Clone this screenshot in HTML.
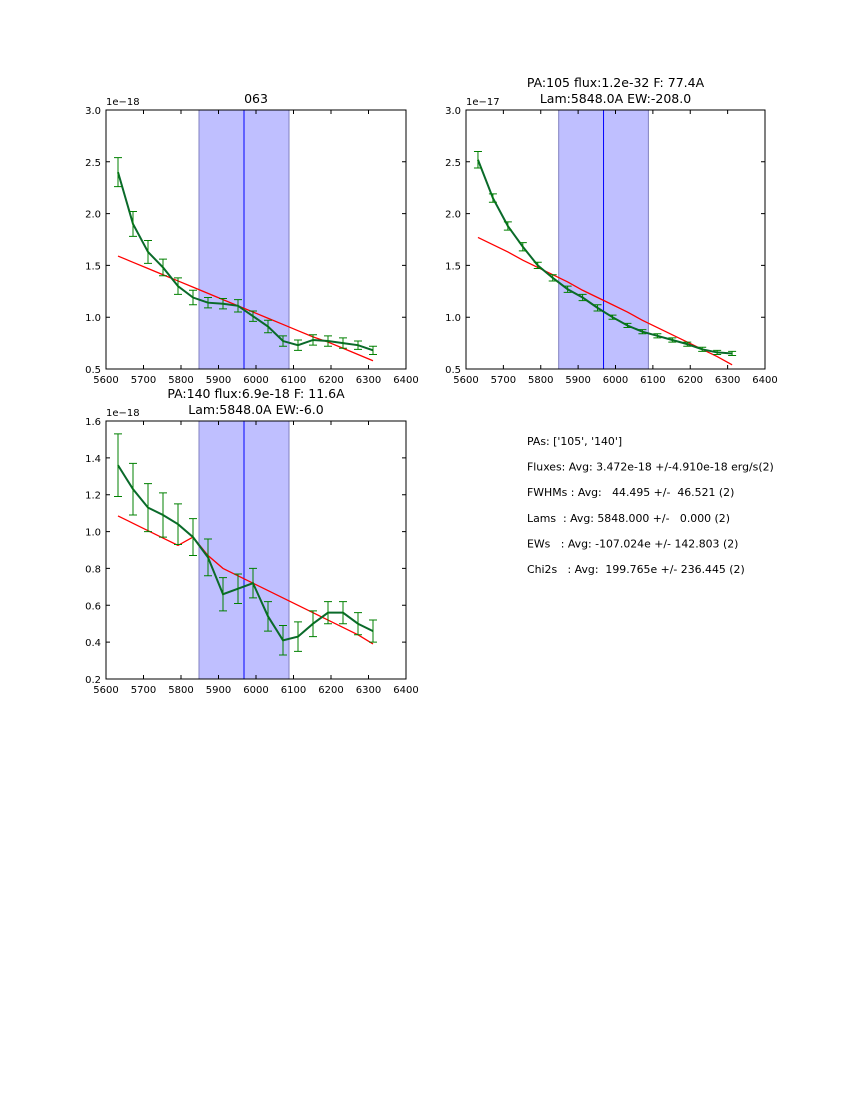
<!DOCTYPE html>
<html><head><meta charset="utf-8"><style>
body{margin:0;background:#fff;}
svg text{font-family:"DejaVu Sans","Liberation Sans",sans-serif;}
</style></head><body>
<svg id="fig" width="850" height="1100" xmlns="http://www.w3.org/2000/svg"></svg>
<script>
const wavelengths=[5632,5672,5712,5752,5792,5832,5872,5912,5952,5992,6032,6072,6112,6152,6192,6232,6272,6312];
const flux063=[2.40,1.90,1.63,1.48,1.30,1.19,1.14,1.13,1.11,1.01,0.91,0.77,0.73,0.78,0.77,0.75,0.73,0.68];
const err063=[0.14,0.12,0.11,0.08,0.08,0.07,0.05,0.05,0.06,0.05,0.06,0.05,0.05,0.05,0.05,0.05,0.04,0.04];
const fit063=[1.59,1.53,1.47,1.41,1.35,1.29,1.23,1.17,1.11,1.05,0.99,0.93,0.87,0.81,0.76,0.70,0.64,0.58];
const flux105=[2.52,2.15,1.88,1.68,1.50,1.38,1.27,1.19,1.09,1.00,0.92,0.86,0.82,0.78,0.74,0.69,0.66,0.65];
const err105=[0.08,0.04,0.04,0.04,0.03,0.03,0.03,0.03,0.03,0.02,0.02,0.02,0.02,0.02,0.02,0.02,0.02,0.02];
const fit105=[1.77,1.70,1.63,1.55,1.48,1.41,1.34,1.26,1.19,1.12,1.05,0.97,0.90,0.83,0.76,0.69,0.62,0.54];
const flux140=[1.36,1.23,1.13,1.09,1.04,0.97,0.86,0.66,0.69,0.72,0.54,0.41,0.43,0.50,0.56,0.56,0.50,0.46];
const err140=[0.17,0.14,0.13,0.12,0.11,0.10,0.10,0.09,0.08,0.08,0.08,0.08,0.08,0.07,0.06,0.06,0.06,0.06];
const fit140=[1.085,1.045,1.005,0.965,0.925,0.97,0.87,0.80,0.76,0.72,0.68,0.64,0.60,0.56,0.52,0.48,0.44,0.39];
const xTicks=[5600,5700,5800,5900,6000,6100,6200,6300,6400];
const yTicksA=[0.5,1.0,1.5,2.0,2.5,3.0];
const yTicksB=[0.2,0.4,0.6,0.8,1.0,1.2,1.4,1.6];
const bandRange=[5848,6088];
const lineCenter=5968;

const NS="http://www.w3.org/2000/svg";
const fig=document.getElementById('fig');
function el(tag,attrs,parent){const e=document.createElementNS(NS,tag);for(const k in attrs)e.setAttribute(k,attrs[k]);(parent||fig).appendChild(e);return e;}
function panel(name,L,T,W,H,ymin,ymax,yTicks,ydec,flux,err,fit,titles,expo){
  const g=el('g',{});
  
  
  const sx=v=>L+(v-5600)/800*W, sy=v=>T+H-(v-ymin)/(ymax-ymin)*H;
  const band=el('rect',{x:sx(bandRange[0]),y:T,width:sx(bandRange[1])-sx(bandRange[0]),height:H,fill:'#bfbfff',stroke:'#8080c0','stroke-width':1},g);
  
  
  const vl=el('line',{x1:sx(lineCenter),x2:sx(lineCenter),y1:T,y2:T+H,stroke:'#0000ff','stroke-width':1},g);
  
  
  const fl=el('polyline',{points:wavelengths.map((w,i)=>sx(w)+','+sy(fit[i])).join(' '),fill:'none',stroke:'#ff0000','stroke-width':1.3},g);
  
  
  const dl=el('polyline',{points:wavelengths.map((w,i)=>sx(w)+','+sy(flux[i])).join(' '),fill:'none',stroke:'#0a6a2a','stroke-width':2},g);
  
  
  wavelengths.forEach((w,i)=>{
    const x=sx(w),y1=sy(flux[i]-err[i]),y2=sy(flux[i]+err[i]);
    const p=el('path',{d:`M${x},${y1}V${y2}M${x-4},${y1}H${x+4}M${x-4},${y2}H${x+4}`,stroke:'#008000','stroke-width':1,fill:'none'},g);
    
    
  });
  el('rect',{x:L,y:T,width:W,height:H,fill:'none',stroke:'#000','stroke-width':1},g);
  xTicks.forEach(t=>{const x=sx(t);
    el('path',{d:`M${x},${T+H}v-4M${x},${T}v4`,stroke:'#000'},g);
    const tx=el('text',{x:x,y:T+H+14,'font-size':10,'text-anchor':'middle'},g);tx.textContent=t;
    
    });
  yTicks.forEach(t=>{const y=sy(t);
    el('path',{d:`M${L},${y}h4M${L+W},${y}h-4`,stroke:'#000'},g);
    const tx=el('text',{x:L-5,y:y+4,'font-size':10,'text-anchor':'end'},g);tx.textContent=t.toFixed(1);
    
    });
  const ex=el('text',{x:L,y:T-5,'font-size':10},g);ex.textContent='1e\u221218'.replace('18',expo);
  
  
  titles.forEach((s,k)=>{const t=el('text',{x:L+W/2,y:T-7-(titles.length-1-k)*16,'font-size':12.5,'text-anchor':'middle'},g);t.textContent=s;
    
    });
}
panel('panel-063',106,110,300,259,0.5,3.0,yTicksA,1,flux063,err063,fit063,['063'],'18');
panel('panel-pa105',466,110,299,259,0.5,3.0,yTicksA,1,flux105,err105,fit105,['PA:105 flux:1.2e-32 F: 77.4A','Lam:5848.0A EW:-208.0'],'17');
panel('panel-pa140',106,421,300,258,0.2,1.6,yTicksB,1,flux140,err140,fit140,['PA:140 flux:6.9e-18 F: 11.6A','Lam:5848.0A EW:-6.0'],'18');
const lines=["PAs: ['105', '140']","Fluxes: Avg: 3.472e-18 +/-4.910e-18 erg/s(2)","FWHMs : Avg:   44.495 +/-  46.521 (2)","Lams  : Avg: 5848.000 +/-   0.000 (2)","EWs   : Avg: -107.024e +/- 142.803 (2)","Chi2s   : Avg:  199.765e +/- 236.445 (2)"];
lines.forEach((s,i)=>{const t=el('text',{x:527,y:445+i*25.6,'font-size':10.9,'xml:space':'preserve'});t.textContent=s;
  
  
  t.style.whiteSpace='pre';});
</script>
</body></html>
